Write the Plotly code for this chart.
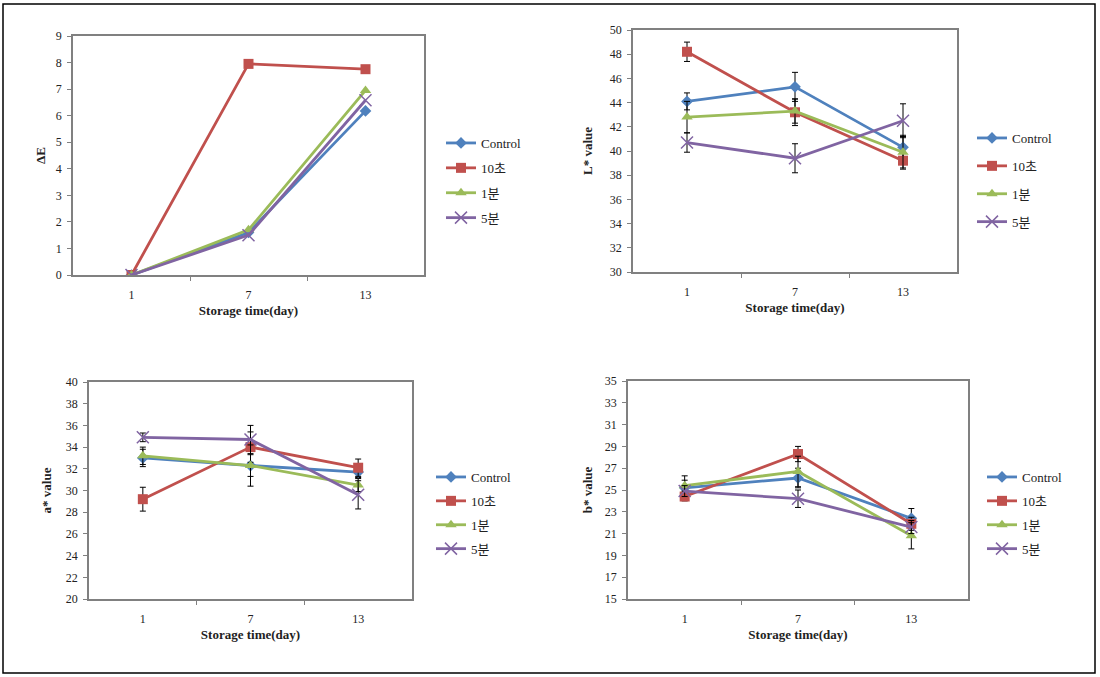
import plotly.graph_objects as go

# ---------------- data ----------------
days = ["1", "7", "13"]
series_names = ["Control", "10초", "1분", "5분"]

de_control = [0.0, 1.60, 6.18]
de_10s = [0.0, 7.95, 7.75]
de_1m = [0.0, 1.70, 6.95]
de_5m = [0.0, 1.50, 6.58]

L_control = [44.1, 45.3, 40.3]
L_10s = [48.2, 43.2, 39.2]
L_1m = [42.8, 43.3, 39.9]
L_5m = [40.7, 39.4, 42.5]
L_control_err = [0.7, 1.2, 1.0]
L_10s_err = [0.8, 1.1, 0.7]
L_1m_err = [1.3, 1.0, 1.3]
L_5m_err = [0.8, 1.2, 1.4]

a_control = [33.0, 32.3, 31.7]
a_10s = [29.2, 34.0, 32.1]
a_1m = [33.2, 32.3, 30.5]
a_5m = [34.9, 34.7, 29.6]
a_control_err = [0.8, 1.0, 0.5]
a_10s_err = [1.1, 1.4, 0.8]
a_1m_err = [0.8, 1.9, 0.6]
a_5m_err = [0.4, 1.3, 1.3]

b_control = [25.2, 26.1, 22.4]
b_10s = [24.4, 28.3, 21.9]
b_1m = [25.4, 26.7, 20.8]
b_5m = [24.9, 24.2, 21.6]
b_control_err = [1.1, 0.9, 0.9]
b_10s_err = [0.4, 0.7, 0.6]
b_1m_err = [0.5, 1.4, 1.2]
b_5m_err = [0.5, 0.8, 0.6]

colors = ["#4F81BD", "#C0504D", "#9BBB59", "#8064A2"]
symbols = ["diamond", "square", "triangle-up", "x-thin"]
msizes = [9, 10, 10, 12]

SERIF = "'Liberation Serif', 'Noto Sans CJK KR', serif"

fig = go.Figure()

panels = [
    dict(vals=[de_control, de_10s, de_1m, de_5m], errs=None,
         ytitle="ΔE", yrange=[0, 9], dtick=1, ystand=7,
         xdom=[73, 424], ydom=[36, 275], legend_xy=(441, 128), gap=5),
    dict(vals=[L_control, L_10s, L_1m, L_5m],
         errs=[L_control_err, L_10s_err, L_1m_err, L_5m_err],
         ytitle="L* value", yrange=[30, 50], dtick=2, ystand=14,
         xdom=[633, 957], ydom=[30, 272], legend_xy=(972, 123), gap=8),
    dict(vals=[a_control, a_10s, a_1m, a_5m],
         errs=[a_control_err, a_10s_err, a_1m_err, a_5m_err],
         ytitle="a* value", yrange=[20, 40], dtick=2, ystand=11,
         xdom=[89, 412], ydom=[382, 599], legend_xy=(431, 462), gap=4),
    dict(vals=[b_control, b_10s, b_1m, b_5m],
         errs=[b_control_err, b_10s_err, b_1m_err, b_5m_err],
         ytitle="b* value", yrange=[15, 35], dtick=2, ystand=9,
         xdom=[628, 968], ydom=[381, 599], legend_xy=(982, 462), gap=4),
]

W, H = 1100, 677
layout_updates = {}
for p_i, p in enumerate(panels):
    ax = "" if p_i == 0 else str(p_i + 1)
    leg = "legend" if p_i == 0 else f"legend{p_i + 1}"
    for s_i, name in enumerate(series_names):
        err = None
        if p["errs"] is not None:
            err = dict(type="data", array=p["errs"][s_i], color="black",
                       thickness=1, width=3)
        fig.add_trace(go.Scatter(
            x=[0, 1, 2], y=p["vals"][s_i], name=name,
            mode="lines+markers",
            line=dict(color=colors[s_i], width=2.8),
            marker=dict(symbol=symbols[s_i], size=msizes[s_i], color=colors[s_i],
                        line=dict(color=colors[s_i], width=1.5 if s_i == 3 else 0)),
            error_y=err,
            xaxis="x" + ax, yaxis="y" + ax,
            legend=leg, legendgroup=f"{p_i}-{s_i}",
        ))
    layout_updates["xaxis" + ax] = dict(
        domain=[p["xdom"][0] / W, p["xdom"][1] / W],
        anchor="y" + ax, automargin=False,
        range=[-0.5, 2.5],
        tickmode="array", tickvals=[0, 1, 2], ticktext=days,
        ticks="", showgrid=False, zeroline=False,
        showline=True, linecolor="#808080", linewidth=1.5, mirror=True,
        minor=dict(tickmode="array", tickvals=[0.5, 1.5], ticks="outside",
                   ticklen=4, tickcolor="#808080", tickwidth=1, showgrid=False),
        ticklabelstandoff=8,
        tickfont=dict(family=SERIF, size=12, color="#222"),
        title=dict(text="<b>Storage time(day)</b>", standoff=5,
                   font=dict(family=SERIF, size=13, color="#222")),
    )
    layout_updates["yaxis" + ax] = dict(
        domain=[1 - p["ydom"][1] / H, 1 - p["ydom"][0] / H],
        anchor="x" + ax, automargin=False,
        range=p["yrange"], dtick=p["dtick"], tick0=p["yrange"][0],
        ticks="outside", ticklen=4, tickcolor="#808080",
        showgrid=False, zeroline=False,
        showline=True, linecolor="#808080", linewidth=1.5, mirror=True,
        ticklabelstandoff=3,
        tickfont=dict(family=SERIF, size=12, color="#222"),
        title=dict(text="<b>" + p["ytitle"] + "</b>", standoff=p["ystand"],
                   font=dict(family=SERIF, size=13, color="#222")),
    )
    lx, ly = p["legend_xy"]
    layout_updates[leg] = dict(
        x=lx / W, y=1 - ly / H, xanchor="left", yanchor="top",
        xref="paper", yref="paper",
        font=dict(family=SERIF, size=13, color="#222"),
        bgcolor="rgba(0,0,0,0)", borderwidth=0,
        tracegroupgap=p["gap"], traceorder="grouped",
        itemwidth=30,
    )

fig.update_layout(**layout_updates)
fig.update_layout(
    width=W, height=H, autosize=False,
    margin=dict(l=0, r=0, t=0, b=0, pad=0, autoexpand=False),
    font=dict(family=SERIF, color="#222"),
    paper_bgcolor="white", plot_bgcolor="white",
    showlegend=True,
)

# outer frame
fig.add_shape(type="rect", xref="paper", yref="paper",
              x0=3 / W, x1=1095 / W, y0=1 - 673 / H, y1=1 - 4 / H,
              line=dict(color="black", width=1.5), fillcolor="rgba(0,0,0,0)")

fig.write_html("out.html",
               config={"displayModeBar": False},
               post_script="document.body.style.margin='0';document.body.style.overflow='hidden';")
